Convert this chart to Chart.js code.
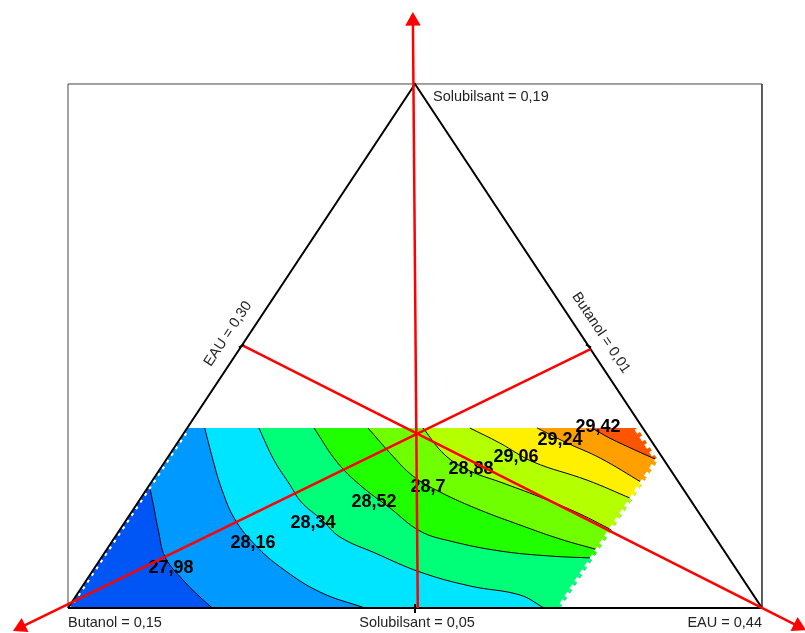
<!DOCTYPE html>
<html>
<head>
<meta charset="utf-8">
<script src="https://cdn.jsdelivr.net/npm/chart.js@4.4.0/dist/chart.umd.min.js"></script>
<style>
  html, body { margin: 0; padding: 0; background: #fff; }
</style>
</head>
<body>
<canvas id="chart" width="805" height="633"></canvas>
<script>
// plot units: triangle base runs 0..100 along x, apex sits at y = 100
const levels = ['27,98', '28,16', '28,34', '28,52', '28,7', '28,88', '29,06', '29,24', '29,42'];
const bandColors = ['#0055f5', '#0099ff', '#00e5ff', '#00ff78', '#20ff00',
                    '#70ff00', '#b4ff00', '#fff000', '#ffa000', '#ff5500'];

// outline of the computed region (clockwise)
const domain = [
  {x: 17.2, y: 34.35}, {x: 82.0, y: 34.35}, {x: 85.0, y: 28.2}, {x: 70.9, y: 0}, {x: 0, y: 0}
];

// iso lines
const c2798 = [{x: 11.7, y: 23.5}, {x: 12.3, y: 19.7}, {x: 13.0, y: 14.9}, {x: 14.0, y: 9.7},
               {x: 16.6, y: 5.3}, {x: 19.5, y: 1.5}, {x: 20.8, y: 0}];
const c2816 = [{x: 19.7, y: 34.35}, {x: 20.9, y: 28.2}, {x: 22.2, y: 22.5}, {x: 24.1, y: 16.8},
               {x: 27.0, y: 12.0}, {x: 30.6, y: 7.8}, {x: 36.3, y: 3.05}, {x: 42.8, y: 0}];
const c2834 = [{x: 27.5, y: 34.35}, {x: 29.7, y: 28.2}, {x: 32.0, y: 23.47}, {x: 33.6, y: 20.23},
               {x: 36.6, y: 16.8}, {x: 39.19, y: 13.55}, {x: 44.24, y: 10.5}, {x: 50.72, y: 6.87},
               {x: 57.93, y: 4.2}, {x: 65.13, y: 2.48}, {x: 68.6, y: 0}];
const c2852 = [{x: 35.45, y: 34.35}, {x: 38.76, y: 27.86}, {x: 42.07, y: 23.47}, {x: 46.4, y: 19.08},
               {x: 50.72, y: 14.69}, {x: 55.04, y: 12.79}, {x: 62.25, y: 10.88}, {x: 69.45, y: 9.92},
               {x: 75.65, y: 9.54}];
const c2870 = [{x: 43.23, y: 34.35}, {x: 46.4, y: 29.58}, {x: 49.71, y: 25.19}, {x: 53.6, y: 22.14},
               {x: 59.37, y: 18.7}, {x: 65.13, y: 15.84}, {x: 70.89, y: 13.17}, {x: 76.43, y: 11.07}];
const c2888 = [{x: 51.15, y: 34.35}, {x: 54.32, y: 29.2}, {x: 57.93, y: 26.15}, {x: 62.25, y: 24.05},
               {x: 68.01, y: 21.18}, {x: 73.78, y: 17.94}, {x: 78.34, y: 14.89}];
const c2906 = [{x: 57.9, y: 34.35}, {x: 62.2, y: 31.5}, {x: 67.0, y: 27.9}, {x: 74.8, y: 24.4},
               {x: 81.3, y: 20.8}];
const c2924 = [{x: 67.6, y: 34.35}, {x: 71.9, y: 31.5}, {x: 76.7, y: 28.6}, {x: 82.8, y: 23.85}];
const c2942 = [{x: 75.5, y: 34.35}, {x: 78.1, y: 32.4}, {x: 81.7, y: 30.15}, {x: 85.0, y: 28.2}];
const contours = [c2798, c2816, c2834, c2852, c2870, c2888, c2906, c2924, c2942];

const labelPos = [{x: 14.84, y: 7.63}, {x: 26.66, y: 12.4}, {x: 35.3, y: 16.22}, {x: 44.09, y: 20.23},
                  {x: 51.87, y: 23.09}, {x: 58.07, y: 26.53}, {x: 64.55, y: 28.82},
                  {x: 70.89, y: 32.06}, {x: 76.37, y: 34.54}];

const triangle = [{x: 0, y: 0}, {x: 100, y: 0}, {x: 50, y: 100}, {x: 0, y: 0}];
const frame = [{x: 0, y: 0}, {x: 0, y: 100}, {x: 100, y: 100}, {x: 100, y: 0}];
const axisLines = [
  [{x: 50.4, y: 0}, {x: 49.7, y: 112.0}],
  [{x: 75.3, y: 49.4}, {x: -6.77, y: -3.63}],
  [{x: 25.0, y: 50.2}, {x: 105.2, y: -3.44}]
];

const TENSION = 0.4;

function edgeOf(p) {
  let best = 0, bestD = Infinity;
  for (let i = 0; i < domain.length; i++) {
    const a = domain[i], b = domain[(i + 1) % domain.length];
    const dx = b.x - a.x, dy = b.y - a.y;
    let t = ((p.x - a.x) * dx + (p.y - a.y) * dy) / (dx * dx + dy * dy);
    t = Math.max(0, Math.min(1, t));
    const d = Math.hypot(p.x - a.x - t * dx, p.y - a.y - t * dy);
    if (d < bestD - 1e-9) { bestD = d; best = i; }
  }
  return best;
}

// area on the high side of an iso line, closed along the region outline.
// corner points are doubled so the spline stays straight along the outline.
function upperRegion(line) {
  const n = domain.length;
  const s = edgeOf(line[0]), e = edgeOf(line[line.length - 1]);
  const pts = line.slice();
  pts.push(line[line.length - 1]);
  let i = e;
  while (true) {
    pts.push(domain[i], domain[i]);
    if (i === (s + 1) % n) break;
    i = (i - 1 + n) % n;
  }
  pts.push(line[0]);
  return pts;
}

function arrowAngle(ctx) {
  const d = ctx.dataset.data, sx = ctx.chart.scales.x, sy = ctx.chart.scales.y;
  const a = d[0], b = d[d.length - 1];
  const dx = sx.getPixelForValue(b.x) - sx.getPixelForValue(a.x);
  const dy = sy.getPixelForValue(b.y) - sy.getPixelForValue(a.y);
  return Math.atan2(dx, -dy) * 180 / Math.PI;
}

const datasets = [];
datasets.push({
  label: 'band0', data: domain.concat([domain[0]]), fill: 'shape', tension: 0,
  backgroundColor: bandColors[0], borderWidth: 0, order: 60
});
contours.forEach((c, k) => {
  datasets.push({
    label: 'band' + (k + 1), data: upperRegion(c), fill: 'shape', tension: TENSION,
    backgroundColor: bandColors[k + 1], borderWidth: 0, order: 50 - k
  });
});
contours.forEach((c, k) => {
  datasets.push({
    label: 'iso' + k, data: c, fill: false, tension: TENSION,
    borderColor: '#000', borderWidth: 1, order: 20
  });
});
// ragged cell edges of the computed region
datasets.push({
  label: 'leftEdge', data: [domain[4], domain[0]], fill: false, borderColor: '#fff',
  borderWidth: 6, borderDash: [3, 5], borderCapStyle: 'butt', order: 15
});
datasets.push({
  label: 'rightEdge', data: [domain[1], domain[2], domain[3]], fill: false, borderColor: '#fff',
  borderWidth: 6, borderDash: [5, 4], borderCapStyle: 'butt', order: 15
});
datasets.push({label: 'frame', data: frame, fill: false, borderColor: '#444', borderWidth: 1, order: 6});
datasets.push({label: 'triangle', data: triangle, fill: false, borderColor: '#000', borderWidth: 2, order: 5});
axisLines.forEach((l, k) => {
  datasets.push({
    label: 'axis' + k, data: l, fill: false, borderColor: '#ff0000', borderWidth: 2.5, order: k,
    pointStyle: 'triangle', pointBackgroundColor: '#ff0000', pointBorderWidth: 0,
    pointRadius: ctx => ctx.dataIndex === 1 ? 9 : 0,
    pointRotation: arrowAngle
  });
});

const textPlugin = {
  id: 'texts',
  afterDatasetDraw(chart, args) {
    if (chart.data.datasets[args.index].label !== 'triangle') return;
    const ctx = chart.ctx, sx = chart.scales.x, sy = chart.scales.y;
    const px = v => sx.getPixelForValue(v), py = v => sy.getPixelForValue(v);
    ctx.save();
    ctx.fillStyle = '#000';
    ctx.font = 'bold 18px "Liberation Sans", Arial, sans-serif';
    ctx.textAlign = 'center';
    ctx.textBaseline = 'middle';
    labelPos.forEach((p, k) => ctx.fillText(levels[k], px(p.x), py(p.y)));

    ctx.fillStyle = '#222';
    ctx.font = '14.5px "Liberation Sans", Arial, sans-serif';
    ctx.textAlign = 'left';
    ctx.fillText('Solubilsant = 0,19', px(52.6), py(97.5));
    ctx.fillText('Butanol = 0,15', px(0), py(-2.86));
    ctx.textAlign = 'center';
    ctx.fillText('Solubilsant = 0,05', px(50.3), py(-2.86));
    ctx.textAlign = 'right';
    ctx.fillText('EAU = 0,44', px(100), py(-2.86));

    ctx.textAlign = 'center';
    const leftAng = Math.atan2(py(100) - py(0), px(50) - px(0));
    ctx.save();
    ctx.translate(px(23.05), py(52.3));
    ctx.rotate(leftAng);
    ctx.fillText('EAU = 0,30', 0, 0);
    ctx.restore();
    const rightAng = Math.atan2(py(0) - py(100), px(100) - px(50));
    ctx.save();
    ctx.translate(px(76.8), py(52.5));
    ctx.rotate(rightAng);
    ctx.fillText('Butanol = 0,01', 0, 0);
    ctx.restore();
    ctx.restore();
  },
  afterDatasetsDraw(chart) {
    const ctx = chart.ctx, sx = chart.scales.x, sy = chart.scales.y;
    const px = v => sx.getPixelForValue(v), py = v => sy.getPixelForValue(v);
    ctx.save();
    ctx.strokeStyle = '#000';
    ctx.lineWidth = 2;
    ctx.beginPath();
    ctx.moveTo(px(50), py(0) - 4);
    ctx.lineTo(px(50), py(0) + 5);
    [[25, 50, -1], [75, 50, 1]].forEach(([x, y, s]) => {
      const ang = Math.atan2(py(100) - py(0), s * (px(50) - px(0)));
      const nx = -Math.sin(ang) * 3, ny = Math.cos(ang) * 3;
      ctx.moveTo(px(x) - nx, py(y) - ny);
      ctx.lineTo(px(x) + nx, py(y) + ny);
    });
    ctx.stroke();
    ctx.restore();
  }
};

new Chart(document.getElementById('chart'), {
  type: 'line',
  data: {datasets},
  options: {
    responsive: false,
    animation: false,
    events: [],
    layout: {padding: 0, autoPadding: false},
    elements: {
      point: {radius: 0, hoverRadius: 0},
      line: {tension: 0}
    },
    plugins: {legend: {display: false}, tooltip: {enabled: false}},
    scales: {
      x: {type: 'linear', display: false, min: -9.8, max: 106.2},
      y: {type: 'linear', display: false, min: -4.77, max: 116.03}
    }
  },
  plugins: [textPlugin]
});
</script>
</body>
</html>
